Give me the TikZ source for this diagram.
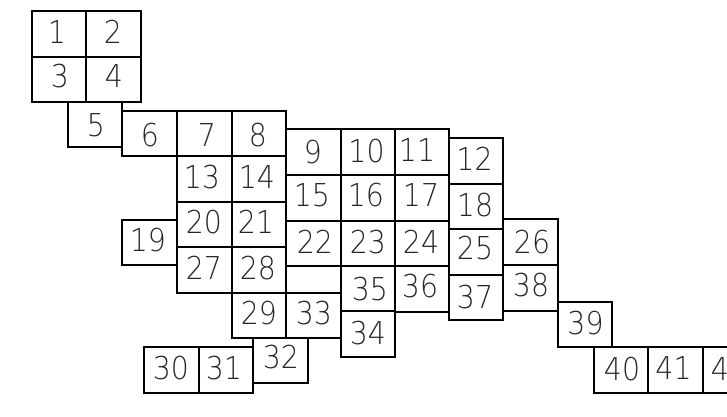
\documentclass[tikz,border=0pt]{standalone}
\usepackage{fontspec}
\newfontfamily\cadfont{DejaVu Sans}[UprightFont={* ExtraLight},FakeStretch=0.9]
\begin{document}
\begin{tikzpicture}[x=1pt,y=-1pt,
  cell/.style={draw=black,line width=1.3pt,inner sep=0pt,outer sep=0pt,rectangle},
  lbl/.style={inner sep=0pt,text depth=0pt,font=\cadfont\fontsize{31.5}{31.5}\selectfont,text=black!85}]
\useasboundingbox (0,0) rectangle (727,416);
\clip (0,0) rectangle (727,416);
\foreach \n/\xa/\ya/\xb/\yb in {
 1/32/11/86/57, 2/86/11/141/57, 3/32/57/86/102, 4/86/57/141/102,
 5/68/102/122/147, 6/122/111/177/156, 7/177/111/232/156, 8/232/111/286/156,
 9/286/129/341/175, 10/341/129/395/175, 11/395/129/449/175, 12/449/138/503/184,
 13/177/156/232/202, 14/232/156/286/202, 15/286/175/341/221, 16/341/175/395/221,
 17/395/175/449/221, 18/449/184/503/229, 19/122/220/177/265, 20/177/202/232/247,
 21/232/202/286/247, 22/286/221/341/266, 23/341/221/395/266, 24/395/221/449/266,
 25/449/229/503/275, 26/503/219/558/265, 27/177/247/232/293, 28/232/247/286/293,
 29/232/293/286/338, 30/144/347/199/393, 31/199/347/253/393, 32/253/338/308/383,
 33/286/293/341/338, 34/341/311/395/357, 35/341/266/395/311, 36/395/266/449/312,
 37/449/275/503/320, 38/503/265/558/311, 39/558/302/612/347, 40/594/347/648/393,
 41/648/347/703/393, 42/703/347/758/393}
{
  \node[cell,minimum width={(\xb-\xa)*1pt},minimum height={(\yb-\ya)*1pt}]
    (b\n) at ({(\xa+\xb)/2},{(\ya+\yb)/2}) {};
}
\foreach \n/\tx/\ty in {
 1/57/32, 2/113/32, 3/60/76, 4/114/76, 5/96/125, 6/150/135, 7/207/135, 8/258/135,
 9/313/152, 10/366.5/151, 11/417/150, 12/474.5/159, 13/202/177, 14/257/177,
 15/312/195, 16/366/195, 17/421/195, 18/475/205, 19/148/240, 20/204/222,
 21/256/222, 22/315/242, 23/368/242, 24/421/242, 25/475/247.5, 26/532/242,
 27/204/268, 28/258/268, 29/259/313, 30/171/367.5, 31/224/367.5, 32/281/357,
 33/314/313, 34/368/333, 35/370/289, 36/420/286, 37/475/297, 38/531/285,
 39/585.5/322.5, 40/622/368.5, 41/673.5/368.5, 42/729/368.5}
{
  \node[lbl] (l\n) at (\tx,\ty) {\n};
}
\end{tikzpicture}
\end{document}
